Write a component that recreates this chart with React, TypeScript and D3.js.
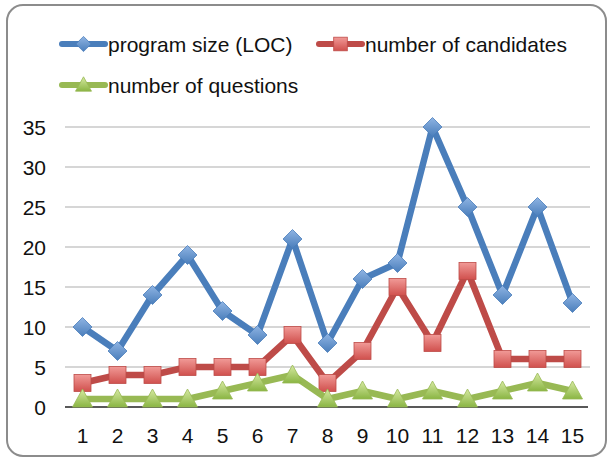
import React from "react";
import * as d3 from "d3";

const categories = ["1","2","3","4","5","6","7","8","9","10","11","12","13","14","15"];
const programSize = [10,7,14,19,12,9,21,8,16,18,35,25,14,25,13];
const candidates = [3,4,4,5,5,5,9,3,7,15,8,17,6,6,6];
const questions = [1,1,1,1,2,3,4,1,2,1,2,1,2,3,2];
const yTicks = [0,5,10,15,20,25,30,35];
const seriesNames = ["program size (LOC)", "number of candidates", "number of questions"];

const W = 610, H = 459;
const left = 65, right = 590, top = 127, bottom = 407;
const font = "Liberation Sans, Arial, sans-serif";

export default function App() {
  const x = d3.scaleBand<string>().domain(categories).range([left, right]);
  const y = d3.scaleLinear().domain([0, 35]).range([bottom, top]);
  const cx = (c: string) => (x(c) as number) + x.bandwidth() / 2;
  const line = d3.line<[string, number]>().x(d => cx(d[0])).y(d => y(d[1]));

  const series = [
    { name: seriesNames[0], data: programSize, color: "#4a7ebb", fill: "url(#gBlue)", shape: "diamond" },
    { name: seriesNames[1], data: candidates, color: "#be4b48", fill: "url(#gRed)", shape: "square" },
    { name: seriesNames[2], data: questions, color: "#98b954", fill: "url(#gGreen)", shape: "triangle" },
  ];

  const marker = (shape: string, px: number, py: number, fill: string, stroke: string, key: any, k = 1) => {
    if (shape === "diamond") {
      const r = 9.5 * k;
      return <path key={key} d={`M${px},${py - r}L${px + r},${py}L${px},${py + r}L${px - r},${py}Z`} fill={fill} stroke={stroke} strokeWidth={0.8} />;
    }
    if (shape === "square") {
      const s = 8.5 * k;
      return <rect key={key} x={px - s} y={py - s} width={2 * s} height={2 * s} fill={fill} stroke={stroke} strokeWidth={0.8} />;
    }
    const h = 9 * k, w = 10 * k;
    return <path key={key} d={`M${px},${py - h - 1}L${px + w},${py + h - 1}L${px - w},${py + h - 1}Z`} fill={fill} stroke={stroke} strokeWidth={0.8} />;
  };

  const legendItems = [
    { s: series[0], x: 60, y: 44 },
    { s: series[1], x: 317, y: 44 },
    { s: series[2], x: 60, y: 85 },
  ];

  return (
    <svg width={W} height={H} style={{ position: "absolute", left: 0, top: 0 }}>
      <defs>
        <linearGradient id="gBlue" x1="0" y1="0" x2="0" y2="1">
          <stop offset="0" stopColor="#8fb4e3" />
          <stop offset="1" stopColor="#4a7ebb" />
        </linearGradient>
        <linearGradient id="gRed" x1="0" y1="0" x2="0" y2="1">
          <stop offset="0" stopColor="#f19a97" />
          <stop offset="1" stopColor="#d0504d" />
        </linearGradient>
        <linearGradient id="gGreen" x1="0" y1="0" x2="0" y2="1">
          <stop offset="0" stopColor="#d7eaa3" />
          <stop offset="1" stopColor="#8ab543" />
        </linearGradient>
      </defs>
      <rect x={0} y={0} width={W} height={H} fill="#fff" />
      <rect x={7} y={5} width={599} height={451} rx={16} ry={16} fill="#fff" stroke="#8c8c8c" strokeWidth={2} />
      {yTicks.filter(t => t > 0).map(t => (
        <line key={t} x1={left} x2={right} y1={y(t)} y2={y(t)} stroke="#c8c8c8" strokeWidth={1.3} />
      ))}
      <line x1={left} x2={right - 2} y1={y(0)} y2={y(0)} stroke="#222" strokeWidth={1.3} />
      {yTicks.map(t => (
        <text key={t} x={46} y={y(t) + 8} textAnchor="end" fontFamily={font} fontSize={21} fill="#111">{t}</text>
      ))}
      {categories.map(c => (
        <text key={c} x={cx(c)} y={443} textAnchor="middle" fontFamily={font} fontSize={21} fill="#111">{c}</text>
      ))}
      {series.map((s, i) => (
        <g key={i}>
          <path d={line(categories.map((c, j) => [c, s.data[j]] as [string, number])) as string} fill="none" stroke={s.color} strokeWidth={6.5} strokeLinejoin="round" />
          {categories.map((c, j) => marker(s.shape, cx(c), y(s.data[j]), s.fill, s.color, j))}
        </g>
      ))}
      {legendItems.map((l, i) => (
        <g key={i}>
          <line x1={l.x + 2} x2={l.x + 45} y1={l.y} y2={l.y} stroke={l.s.color} strokeWidth={6} strokeLinecap="round" />
          {marker(l.s.shape, l.x + 23.5, l.y, l.s.fill, l.s.color, "m", 0.8)}
          <text x={l.x + 48} y={l.y + 7.5} fontFamily={font} fontSize={21} fill="#111">{l.s.name}</text>
        </g>
      ))}
    </svg>
  );
}
